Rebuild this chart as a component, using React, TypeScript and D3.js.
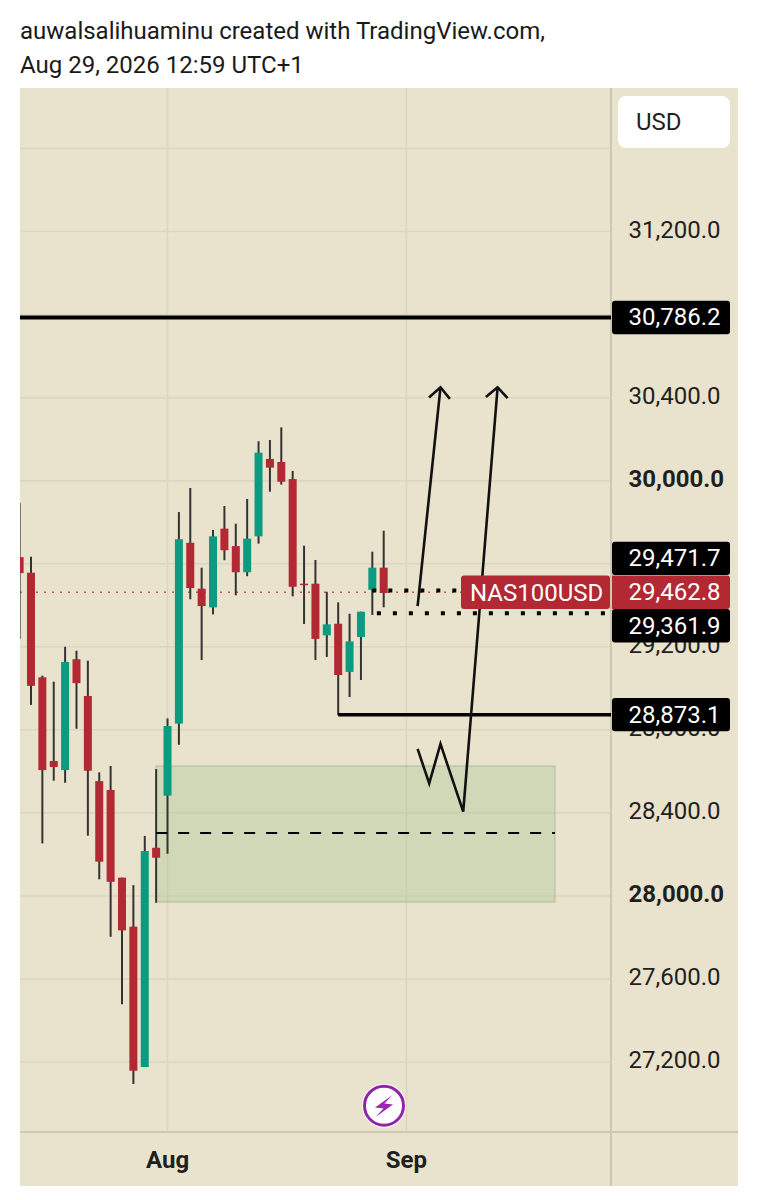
import React from "react";
import * as d3 from "d3";

// price candles, one entry per bar, left to right
const opens = [29632,29557,29053,28650,28606,29140,28963,28553,28510,28088,27852,27176,28232,28483,28830,29701,29480,29390,29769,29685,29559,29732,30105,30090,30008,29504,29504,29255,29311,29079,29247,29474,29581];
const closes = [29555,29012,28606,28621,29127,29025,28603,28165,28068,27834,27158,28216,28184,28818,29718,29483,29396,29732,29665,29559,29721,30135,30063,29995,29489,29498,29238,29308,29064,29226,29369,29581,29459];
const highs = [29893,29634,29061,29032,29200,29181,29133,28595,28626,28088,28052,28289,28611,28855,29849,29965,29581,29763,29878,29793,29912,30190,30196,30257,30047,29687,29618,29465,29414,29359,29369,29658,29759];
const lows = [29237,28920,28253,28555,28545,28805,28290,28080,27803,27478,27094,27176,27967,28203,28728,29429,29136,29356,29617,29448,29540,29697,29947,29981,29443,29310,29136,29151,28871,28958,29040,29353,29390];

const priceTicks = [31600,31200,30800,30400,30000,29600,29200,28800,28400,28000,27600,27200];
const hiddenLabels = [31600,30800,29600];
const boldTicks = [30000,28000];
const timeTicks = [{ index: 13, label: "Aug" }, { index: 34, label: "Sep" }];

const lastPrice = 29462.8;
const symbol = "NAS100USD";
const topLevel = 30786.2;
const lowLevel = 28873.1;
const dotHigh = 29471.7;
const dotLow = 29361.9;

const zone = { from: 12, to: 47.05, top: 28626, bottom: 27971, mid: 28303 };

const arrowA: [number, number][] = [[34.98,29396],[36.99,30450]];
const arrowAHead: [number, number][] = [[35.98,30401],[36.99,30450],[37.82,30394]];
const arrowB: [number, number][] = [[34.98,28708],[36.0,28542],[36.99,28732],[38.99,28406],[42.01,30450]];
const arrowBHead: [number, number][] = [[40.98,30403],[42.01,30450],[42.89,30398]];

const fmt = d3.format(",.1f");
const BG = "#e9e3cd", GRID = "#dcd5bf", AXIS = "#cdc7b3", RED = "#b22833", GREEN = "#0c9a80", WICK = "#333333";
const FONT = "Roboto, sans-serif";

const W = 758, H = 1200, L = 20, R = 738, PT = 88, PB = 1186, AX = 611, TB = 1132;
const LX = 628.5;

export default function App() {
  const x = d3.scaleLinear().domain([0, 32]).range([19.6, 383.7]);
  const y = d3.scaleLinear().domain([30000, 27200]).range([480.7, 1062]);
  const line = d3.line<[number, number]>().x((d) => x(d[0])).y((d) => y(d[1]));
  const bw = 8;

  const tag = (v: number, cy: number, fill: string, key: string) => (
    <g key={key}>
      <rect x={612} y={cy - 16.7} width={118} height={33.4} rx={3} fill={fill} />
      <text x={LX} y={cy + 8} fontSize={24} fill="#fff" fontFamily={FONT}>{fmt(v)}</text>
    </g>
  );

  return (
    <svg width={W} height={H} style={{ position: "absolute", left: 0, top: 0, background: "#fff" }}>
      <defs>
        <clipPath id="pane"><rect x={L} y={PT} width={AX - L} height={TB - PT} /></clipPath>
      </defs>
      <text x={20} y={39} fontSize={24} fill="#1a1a1a" fontFamily={FONT}>auwalsalihuaminu created with TradingView.com,</text>
      <text x={20} y={73} fontSize={24} fill="#1a1a1a" fontFamily={FONT}>Aug 29, 2026 12:59 UTC+1</text>

      <rect x={L} y={PT} width={R - L} height={PB - PT} fill={BG} />

      {priceTicks.map((t) => <line key={t} x1={L} x2={AX} y1={y(t)} y2={y(t)} stroke={GRID} strokeWidth={1.5} />)}
      {timeTicks.map((t) => <line key={t.label} x1={x(t.index)} x2={x(t.index)} y1={PT} y2={TB} stroke={GRID} strokeWidth={1.5} />)}

      <line x1={AX} x2={AX} y1={PT} y2={PB} stroke={AXIS} strokeWidth={2} />
      <line x1={L} x2={R} y1={TB} y2={TB} stroke={AXIS} strokeWidth={2} />

      {/* zone */}
      <rect x={x(zone.from)} y={y(zone.top)} width={x(zone.to) - x(zone.from)} height={y(zone.bottom) - y(zone.top)}
        fill="#9dc088" fillOpacity={0.3} stroke="#8ba58c" strokeOpacity={0.3} strokeWidth={2} />

      <g clipPath="url(#pane)">
        <line x1={L} x2={AX} y1={y(lastPrice)} y2={y(lastPrice)} stroke={RED} strokeWidth={1.5} strokeDasharray="2 6" opacity={0.75} />
        {opens.map((o, i) => {
          const c = closes[i];
          const up = c > o;
          return (
            <g key={i}>
              <line x1={x(i)} x2={x(i)} y1={y(highs[i])} y2={y(lows[i])} stroke={WICK} strokeWidth={2} />
              <rect x={x(i) - bw / 2} y={y(Math.max(o, c))} width={bw} height={Math.max(1.5, Math.abs(y(o) - y(c)))} fill={up ? GREEN : RED} />
            </g>
          );
        })}
        <line x1={x(zone.from)} x2={x(zone.to)} y1={y(zone.mid)} y2={y(zone.mid)} stroke="#000" strokeWidth={2} strokeDasharray="11 11" />
        <line x1={L} x2={AX} y1={y(topLevel)} y2={y(topLevel)} stroke="#000" strokeWidth={4} />
        <line x1={x(28)} x2={AX} y1={y(lowLevel)} y2={y(lowLevel)} stroke="#000" strokeWidth={3.5} />
        <line x1={x(31)} x2={x(39.6)} y1={y(dotHigh)} y2={y(dotHigh)} stroke="#000" strokeWidth={4} strokeDasharray="4 12" />
        <line x1={x(31.4)} x2={AX} y1={y(dotLow)} y2={y(dotLow)} stroke="#000" strokeWidth={4} strokeDasharray="4 12" />
        {[arrowA, arrowAHead, arrowB, arrowBHead].map((p, i) => (
          <path key={i} d={line(p) ?? ""} fill="none" stroke="#111" strokeWidth={2.6} strokeLinejoin="miter" />
        ))}
      </g>

      {priceTicks.filter((t) => !hiddenLabels.includes(t)).map((t) => (
        <text key={t} x={LX} y={y(t) + 6} fontSize={24} fill="#1f1f1f"
          fontWeight={boldTicks.includes(t) ? 700 : 400} fontFamily={FONT}>{fmt(t)}</text>
      ))}
      {timeTicks.map((t) => (
        <text key={t.label} x={x(t.index)} y={1168} textAnchor="middle" fontSize={24} fontWeight={700} fill="#1f1f1f" fontFamily={FONT}>{t.label}</text>
      ))}

      {tag(topLevel, y(topLevel), "#000", "top")}
      {tag(dotHigh, 558.4, "#000", "dh")}
      {tag(dotLow, 625.8, "#000", "dl")}
      {tag(lowLevel, y(lowLevel), "#000", "low")}

      <rect x={461} y={575.5} width={149} height={33.5} rx={3} fill={RED} />
      <path d={`M612 575.5 H727 a3 3 0 0 1 3 3 V606 a3 3 0 0 1 -3 3 H612 Z`} fill={RED} />
      <text x={470} y={601} fontSize={24} fill="#fff" fontFamily={FONT}>{symbol}</text>
      <text x={LX} y={599.5} fontSize={24} fill="#fff" fontFamily={FONT}>{fmt(lastPrice)}</text>

      {/* currency button */}
      <rect x={618} y={96} width={112} height={52} rx={8} fill="#fff" />
      <text x={636} y={130} fontSize={24} fill="#1f1f1f" fontFamily={FONT}>USD</text>

      {/* bolt badge */}
      <circle cx={384} cy={1105.7} r={22} fill="#fff" />
      <circle cx={384} cy={1105.7} r={19.5} fill="#fff" stroke="#8e24aa" strokeWidth={3} />
      <path d="M392.5 1095 L375 1107.5 L383.5 1108.5 L375.5 1117 L393 1104.5 L384.5 1103.5 Z" fill="#9c27b0" />
    </svg>
  );
}
